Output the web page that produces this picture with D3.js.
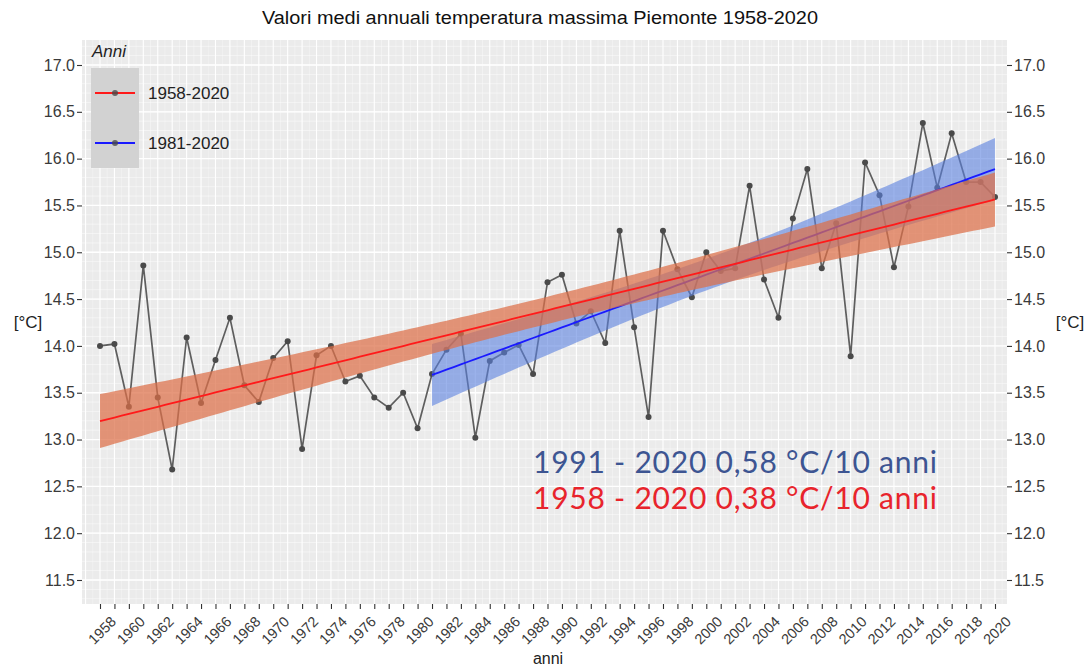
<!DOCTYPE html>
<html><head><meta charset="utf-8">
<script src="https://cdn.jsdelivr.net/npm/d3@7"></script>
<style>body{margin:0;background:#fff}svg{display:block}</style>
</head><body>
<svg id="c" width="1088" height="669"></svg>
<script>
// ---- data ----
const years = [1958,1959,1960,1961,1962,1963,1964,1965,1966,1967,1968,1969,1970,1971,1972,1973,1974,1975,1976,1977,1978,1979,1980,1981,1982,1983,1984,1985,1986,1987,1988,1989,1990,1991,1992,1993,1994,1995,1996,1997,1998,1999,2000,2001,2002,2003,2004,2005,2006,2007,2008,2009,2010,2011,2012,2013,2014,2015,2016,2017,2018,2019,2020];
const tmax = [14.00,14.02,13.35,14.86,13.45,12.68,14.09,13.39,13.85,14.30,13.58,13.40,13.87,14.05,12.90,13.90,14.00,13.62,13.68,13.45,13.34,13.50,13.12,13.70,13.96,14.13,13.02,13.84,13.93,14.01,13.70,14.68,14.76,14.24,14.37,14.03,15.23,14.20,13.24,15.23,14.82,14.52,15.00,14.80,14.83,15.71,14.71,14.30,15.36,15.89,14.83,15.31,13.89,15.96,15.61,14.84,15.49,16.38,15.69,16.27,15.75,15.75,15.59];
const periods = ["1958-2020","1981-2020"];
const periodStart = [1958,1981];
const periodEnd = [2020,2020];
const yTicks = [11.5,12.0,12.5,13.0,13.5,14.0,14.5,15.0,15.5,16.0,16.5,17.0];
const annotations = ["1991 - 2020 0,58 °C/10 anni","1958 - 2020 0,38 °C/10 anni"];
const title = "Valori medi annuali temperatura massima Piemonte 1958-2020";

// ---- layout ----
const svg = d3.select("#c");
const P = {l:82, r:1007, t:40, b:604};
const x = d3.scaleLinear().domain([1958,2020]).range([100,995]);
const y = d3.scaleLinear().domain([11.5,17.0]).range([580,65]);
const font = "'Liberation Sans', Arial, sans-serif";

// panel background
svg.append("rect").attr("x",P.l).attr("y",P.t).attr("width",P.r-P.l).attr("height",P.b-P.t).attr("fill","#ebebeb");
const grid = svg.append("g");
const yMin = y.invert(P.b), yMax = y.invert(P.t);
for (let v = Math.ceil(yMin*10)/10; v <= yMax; v += 0.1) {
  grid.append("line").attr("x1",P.l).attr("x2",P.r).attr("y1",y(v)).attr("y2",y(v))
    .attr("stroke","#fff").attr("stroke-width",0.6).attr("opacity",0.8);
}
yTicks.forEach(v => grid.append("line").attr("x1",P.l).attr("x2",P.r).attr("y1",y(v)).attr("y2",y(v)).attr("stroke","#fff").attr("stroke-width",1.3));
for (let t = 1956.5; t <= 2021.5; t += 0.5) {
  const xx = x(t);
  if (xx < P.l || xx > P.r) continue;
  const major = Number.isInteger(t);
  grid.append("line").attr("x1",xx).attr("x2",xx).attr("y1",P.t).attr("y2",P.b)
    .attr("stroke","#fff").attr("stroke-width",major?1.1:0.5).attr("opacity",major?1:0.7);
}

// ---- data line & points ----
const data = years.map((yr,i)=>({yr, v:tmax[i]}));
svg.append("path").datum(data)
  .attr("d", d3.line().x(d=>x(d.yr)).y(d=>y(d.v)))
  .attr("fill","none").attr("stroke","#5e5e5e").attr("stroke-width",1.7);
svg.append("g").selectAll("circle").data(data).join("circle")
  .attr("cx",d=>x(d.yr)).attr("cy",d=>y(d.v)).attr("r",3).attr("fill","#4a4a4a");

// ---- linear fits with 95% CI ----
function fit(y0, y1, tq) {
  const pts = data.filter(d=>d.yr>=y0 && d.yr<=y1);
  const n = pts.length;
  const mx = d3.mean(pts,d=>d.yr), my = d3.mean(pts,d=>d.v);
  const sxx = d3.sum(pts,d=>(d.yr-mx)**2);
  const b = d3.sum(pts,d=>(d.yr-mx)*(d.v-my))/sxx;
  const a = my - b*mx;
  const s = Math.sqrt(d3.sum(pts,d=>(d.v-(a+b*d.yr))**2)/(n-2));
  return d3.range(y0, y1+0.001, 0.5).map(t=>{
    const f = a+b*t, se = s*Math.sqrt(1/n + (t-mx)**2/sxx);
    return {t, f, lo:f-tq*se, hi:f+tq*se};
  });
}
const colors = {"1958-2020":{band:"#dd6f48", bandOp:0.72, line:"#ff1a1a"}, "1981-2020":{band:"#5a80e0", bandOp:0.6, line:"#1a1aff"}};
const tq = [2.000, 2.024];
[1,0].forEach(i=>{
  const g = fit(periodStart[i], periodEnd[i], tq[i]);
  const c = colors[periods[i]];
  svg.append("path").datum(g)
    .attr("d", d3.area().x(d=>x(d.t)).y0(d=>y(d.lo)).y1(d=>y(d.hi)))
    .attr("fill",c.band).attr("opacity",c.bandOp);
  svg.append("path").datum(g)
    .attr("d", d3.line().x(d=>x(d.t)).y(d=>y(d.f)))
    .attr("fill","none").attr("stroke",c.line).attr("stroke-width",1.8);
});

// ---- axes ----
const axL = svg.append("g").attr("transform",`translate(${P.l},0)`)
  .call(d3.axisLeft(y).tickValues(yTicks).tickFormat(d3.format(".1f")).tickSize(5).tickPadding(2));
const axR = svg.append("g").attr("transform",`translate(${P.r},0)`)
  .call(d3.axisRight(y).tickValues(yTicks).tickFormat(d3.format(".1f")).tickSize(5).tickPadding(2));
const axB = svg.append("g").attr("transform",`translate(0,${P.b})`)
  .call(d3.axisBottom(x).tickValues(years).tickFormat(d=>d%2===0?String(d):"").tickSize(5).tickPadding(2));
[axL,axR,axB].forEach(a=>{
  a.select(".domain").remove();
  a.selectAll(".tick line").attr("stroke","#333").attr("stroke-width",1.1);
  a.selectAll("text").attr("fill","#3a3a3a").style("font-family",font).style("font-size","16px");
});
axB.selectAll("text").attr("text-anchor","end").attr("dy","0.35em")
  .attr("transform","translate(8,10) rotate(-45)").style("font-size","14.5px");

// axis titles
svg.append("text").attr("x",28).attr("y",328).attr("text-anchor","middle")
  .style("font-family",font).style("font-size","17px").attr("fill","#222").text("[°C]");
svg.append("text").attr("x",1070).attr("y",328).attr("text-anchor","middle")
  .style("font-family",font).style("font-size","17px").attr("fill","#222").text("[°C]");
svg.append("text").attr("x",548).attr("y",664).attr("text-anchor","middle")
  .style("font-family",font).style("font-size","16px").attr("fill","#222").text("anni");
svg.append("text").attr("x",540).attr("y",24).attr("text-anchor","middle")
  .style("font-family",font).style("font-size","18px").attr("fill","#111")
  .attr("textLength",556).attr("lengthAdjust","spacingAndGlyphs").text(title);

// ---- legend ----
const lg = svg.append("g");
lg.append("text").attr("x",92).attr("y",57).style("font-family",font).style("font-size","17px")
  .style("font-style","italic").attr("fill","#222").text("Anni");
lg.append("rect").attr("x",91).attr("y",68).attr("width",48).attr("height",100).attr("fill","#d2d2d2");
periods.forEach((p,i)=>{
  const yy = 93 + i*50;
  lg.append("line").attr("x1",95).attr("x2",135).attr("y1",yy).attr("y2",yy)
    .attr("stroke",colors[p].line).attr("stroke-width",1.8);
  lg.append("circle").attr("cx",115).attr("cy",yy).attr("r",3).attr("fill","#4a4a4a").attr("opacity",0.8);
  lg.append("text").attr("x",148).attr("y",yy+6).style("font-family",font).style("font-size","17px")
    .attr("fill","#222").text(p);
});

// ---- annotations ----
const annFont = "Lato, 'Open Sans', sans-serif";
svg.append("text").attr("x",533).attr("y",473).style("font-family",annFont).style("font-size","30px")
  .attr("fill","#3d5592").attr("textLength",404).attr("lengthAdjust","spacing").text(annotations[0]);
svg.append("text").attr("x",533).attr("y",509).style("font-family",annFont).style("font-size","30px")
  .attr("fill","#e8242c").attr("textLength",404).attr("lengthAdjust","spacing").text(annotations[1]);
</script>
</body></html>
